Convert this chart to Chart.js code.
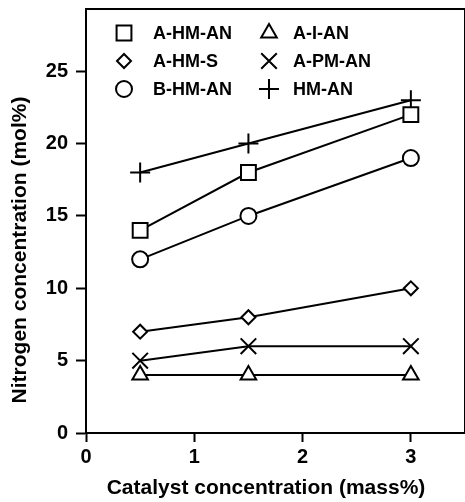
<!DOCTYPE html>
<html>
<head>
<meta charset="utf-8">
<script src="https://cdn.jsdelivr.net/npm/chart.js@4"></script>
<style>
  html, body { margin: 0; padding: 0; background: #fff; }
  canvas { display: block; }
</style>
</head>
<body>
<canvas id="chart" width="465" height="502"></canvas>
<script>
// values
const catalyst = [0.5, 1.5, 3];
const aHmAn = [14, 18, 22];
const aHmS = [7, 8, 10];
const bHmAn = [12, 15, 19];
const aIAn = [4, 4, 4];
const aPmAn = [5, 6, 6];
const hmAn = [18, 20, 23];
const xTicks = [0, 1, 2, 3];
const yTicks = [0, 5, 10, 15, 20, 25];

const FONT = '"Liberation Sans", Arial, sans-serif';
const X_TITLE = 'Catalyst concentration (mass%)';
const Y_TITLE = 'Nitrogen concentration (mol%)';

function series(label, values, style, radius) {
    return {
        label: label,
        data: catalyst.map((x, i) => ({ x: x, y: values[i] })),
        borderColor: '#000',
        borderWidth: 2,
        backgroundColor: '#fff',
        pointStyle: style,
        pointRadius: radius,
        pointBorderWidth: 2,
        pointBackgroundColor: '#fff',
        pointBorderColor: '#000',
        tension: 0,
        clip: false
    };
}

const datasets = [
    series('A-HM-AN', aHmAn, 'rect', 10.5),
    series('A-HM-S', aHmS, 'rectRot', 7),
    series('B-HM-AN', bHmAn, 'circle', 8),
    series('A-I-AN', aIAn, 'triangle', 9),
    series('A-PM-AN', aPmAn, 'crossRot', 11),
    series('HM-AN', hmAn, 'cross', 10)
];

// box around plot, axis titles, legend in two columns
const boxAndLegend = {
    id: 'boxAndLegend',
    afterDraw(chart) {
        const ctx = chart.ctx;
        const a = chart.chartArea;
        ctx.save();
        ctx.strokeStyle = '#000';
        ctx.lineWidth = 2;
        ctx.beginPath();
        ctx.moveTo(a.left, a.top);
        ctx.lineTo(a.right, a.top);
        ctx.lineTo(a.right, a.bottom);
        ctx.stroke();

        ctx.font = 'bold 21px ' + FONT;
        ctx.fillStyle = '#000';
        ctx.textAlign = 'center';
        ctx.textBaseline = 'middle';
        ctx.fillText(X_TITLE, 266, 488);

        ctx.save();
        ctx.translate(20, 250);
        ctx.rotate(-Math.PI / 2);
        ctx.fillText(Y_TITLE, 0, 0);
        ctx.restore();

        const cols = [{ sx: 124, tx: 153 }, { sx: 269, tx: 293 }];
        const rows = [33, 61, 89];
        ctx.font = 'bold 18px ' + FONT;
        ctx.textAlign = 'left';
        chart.data.datasets.forEach((ds, i) => {
            const c = cols[Math.floor(i / 3)];
            const y = rows[i % 3];
            ctx.lineWidth = 2;
            ctx.strokeStyle = '#000';
            ctx.fillStyle = '#fff';
            Chart.helpers.drawPoint(ctx, {
                pointStyle: ds.pointStyle,
                radius: ds.pointRadius,
                borderWidth: 2
            }, c.sx, y);
            ctx.fillStyle = '#000';
            ctx.fillText(ds.label, c.tx, y + 1);
        });
        ctx.restore();
    }
};

new Chart(document.getElementById('chart').getContext('2d'), {
    type: 'line',
    data: { datasets: datasets },
    options: {
        responsive: false,
        animation: false,
        layout: { autoPadding: false, padding: { top: 9, right: 0, left: 0, bottom: 0 } },
        plugins: { legend: { display: false }, tooltip: { enabled: false } },
        scales: {
            x: {
                type: 'linear',
                min: 0,
                max: 3.5,
                afterBuildTicks: s => { s.ticks = xTicks.map(v => ({ value: v })); },
                afterFit: s => { s.height = 69; s.paddingLeft = 0; s.paddingRight = 0; },
                grid: { drawOnChartArea: false, tickLength: 9, tickColor: '#000', tickWidth: 2 },
                border: { color: '#000', width: 2 },
                ticks: { color: '#000', font: { family: FONT, size: 20, weight: 'bold' }, padding: 3, maxRotation: 0 }
            },
            y: {
                min: 0,
                max: 29.3,
                afterBuildTicks: s => { s.ticks = yTicks.map(v => ({ value: v })); },
                afterFit: s => { s.width = 86; s.paddingTop = 0; s.paddingBottom = 0; },
                grid: { drawOnChartArea: false, tickLength: 10, tickColor: '#000', tickWidth: 2 },
                border: { color: '#000', width: 2 },
                ticks: { color: '#000', font: { family: FONT, size: 20, weight: 'bold' }, padding: 8 }
            }
        }
    },
    plugins: [boxAndLegend]
});
</script>
</body>
</html>
